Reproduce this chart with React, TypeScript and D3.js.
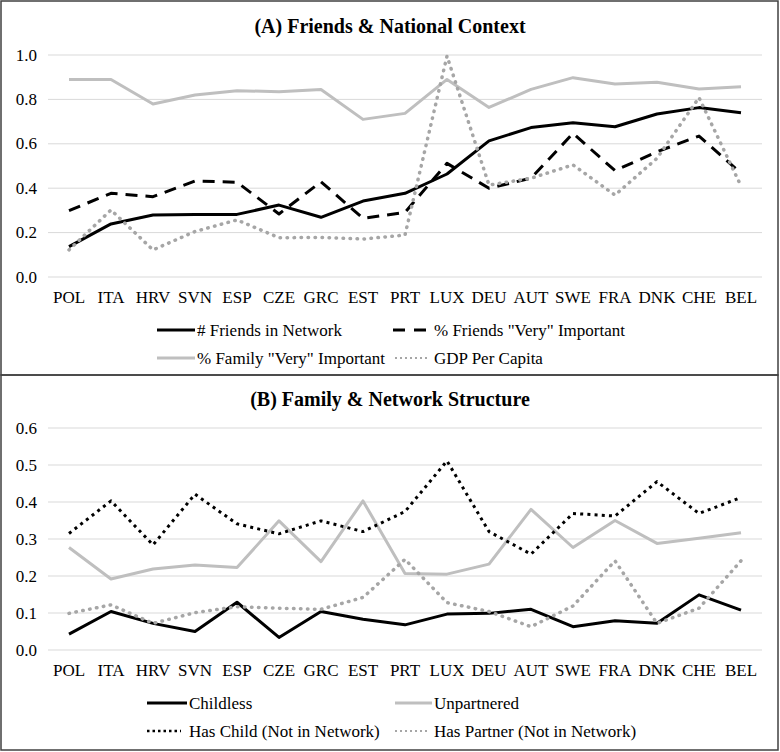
import React from "react";
import * as d3 from "d3";

const countries = ["POL","ITA","HRV","SVN","ESP","CZE","GRC","EST","PRT","LUX","DEU","AUT","SWE","FRA","DNK","CHE","BEL"];

const friendsNetwork = [0.137,0.239,0.279,0.282,0.282,0.324,0.269,0.342,0.377,0.464,0.613,0.673,0.695,0.677,0.734,0.763,0.740];
const friendsImportant = [0.299,0.377,0.362,0.432,0.427,0.284,0.429,0.264,0.291,0.512,0.400,0.445,0.647,0.479,0.564,0.635,0.467];
const familyImportant = [0.890,0.890,0.779,0.820,0.839,0.835,0.845,0.710,0.737,0.890,0.764,0.845,0.898,0.869,0.877,0.847,0.857];
const gdpPerCapita = [0.122,0.302,0.122,0.205,0.257,0.177,0.178,0.171,0.189,0.995,0.414,0.445,0.505,0.369,0.535,0.808,0.410];

const childless = [0.043,0.104,0.072,0.050,0.129,0.034,0.104,0.083,0.068,0.097,0.099,0.110,0.063,0.079,0.072,0.149,0.108];
const unpartnered = [0.277,0.192,0.219,0.230,0.223,0.349,0.239,0.403,0.207,0.205,0.232,0.380,0.277,0.350,0.288,0.302,0.317];
const hasChild = [0.315,0.403,0.284,0.421,0.341,0.314,0.349,0.320,0.374,0.511,0.320,0.259,0.369,0.362,0.455,0.369,0.412];
const hasPartner = [0.099,0.122,0.072,0.101,0.117,0.113,0.110,0.142,0.245,0.128,0.104,0.063,0.119,0.241,0.072,0.113,0.241];

const ticksA = [0, 0.2, 0.4, 0.6, 0.8, 1.0];
const ticksB = [0, 0.1, 0.2, 0.3, 0.4, 0.5, 0.6];

const FONT = "'Liberation Serif', 'Times New Roman', serif";

type Style = { stroke: string; width: number; dash?: string; cap?: string; legWidth?: number; legDash?: string };
const S_BLACK: Style = { stroke: "#000", width: 3 };
const S_DASH: Style = { stroke: "#000", width: 3, dash: "12,8", legDash: "12,9" };
const S_GRAY: Style = { stroke: "#bfbfbf", width: 3 };
const S_GRAYDOT: Style = { stroke: "#a6a6a6", width: 3.5, dash: "0.5,6.5", cap: "round", legWidth: 2, legDash: "2,3" };
const S_BLACKDOT: Style = { stroke: "#000", width: 3, dash: "3,4.2", legWidth: 2.5, legDash: "2.5,3" };

interface PanelProps {
  top: number;
  title: string;
  y0: number;
  y1: number;
  max: number;
  ticks: number[];
  series: { name: string; values: number[]; style: Style }[];
  legendX: number[][]; // [sampleStart, sampleEnd, textStart] per series
}

const x = d3.scaleBand<string>().domain(countries).range([48, 762]).padding(0);

function Panel({ top, title, y0, y1, max, ticks, series, legendX }: PanelProps) {
  const y = d3.scaleLinear().domain([0, max]).range([y0, y1]);
  const line = d3
    .line<number>()
    .x((_, i) => (x(countries[i]) as number) + x.bandwidth() / 2)
    .y((v) => y(v));
  const xLabelY = y0 + 20;
  const legY = [y0 + 53, y0 + 53, y0 + 81, y0 + 81];
  return (
    <g>
      <text x={390} y={top + 26} textAnchor="middle" dominantBaseline="central" fontFamily={FONT} fontWeight="bold" fontSize={20}>
        {title}
      </text>
      {ticks.map((t) => (
        <g key={t}>
          <line x1={48} x2={762} y1={y(t)} y2={y(t)} stroke="#d9d9d9" strokeWidth={1} />
          <text x={37} y={y(t)} textAnchor="end" dominantBaseline="central" fontFamily={FONT} fontSize={17} fill="#000">
            {t.toFixed(1)}
          </text>
        </g>
      ))}
      {countries.map((c) => (
        <text key={c} x={(x(c) as number) + x.bandwidth() / 2} y={xLabelY} textAnchor="middle" dominantBaseline="central" fontFamily={FONT} fontSize={17}>
          {c}
        </text>
      ))}
      {series.map((s) => (
        <path
          key={s.name}
          d={line(s.values) || ""}
          fill="none"
          stroke={s.style.stroke}
          strokeWidth={s.style.width}
          strokeDasharray={s.style.dash}
          strokeLinecap={(s.style.cap as any) || "butt"}
          strokeLinejoin="round"
        />
      ))}
      {series.map((s, i) => {
        const [a, b, t] = legendX[i];
        const ly = legY[i];
        return (
          <g key={"leg" + s.name}>
            <line
              x1={a}
              x2={b}
              y1={ly}
              y2={ly}
              stroke={s.style.stroke}
              strokeWidth={s.style.legWidth ?? s.style.width}
              strokeDasharray={s.style.legDash ?? s.style.dash}
              strokeLinecap="butt"
            />
            <text x={t} y={ly} dominantBaseline="central" fontFamily={FONT} fontSize={17}>
              {s.name}
            </text>
          </g>
        );
      })}
    </g>
  );
}

export default function App() {
  return (
    <svg width={780} height={752} style={{ position: "absolute", left: 0, top: 0, background: "#fff" }}>
      <rect x={0} y={0} width={780} height={752} fill="#fff" />
      <Panel
        top={0}
        title="(A) Friends & National Context"
        y0={277}
        y1={55}
        max={1.0}
        ticks={ticksA}
        legendX={[
          [157, 195, 197],
          [393, 430, 434],
          [157, 195, 197],
          [395, 428, 434],
        ]}
        series={[
          { name: "# Friends in Network", values: friendsNetwork, style: S_BLACK },
          { name: '% Friends "Very" Important', values: friendsImportant, style: S_DASH },
          { name: '% Family "Very" Important', values: familyImportant, style: S_GRAY },
          { name: "GDP Per Capita", values: gdpPerCapita, style: S_GRAYDOT },
        ]}
      />
      <Panel
        top={373}
        title="(B) Family & Network Structure"
        y0={650}
        y1={428}
        max={0.6}
        ticks={ticksB}
        legendX={[
          [147, 187, 189],
          [395, 432, 434],
          [147, 181, 189],
          [395, 427, 434],
        ]}
        series={[
          { name: "Childless", values: childless, style: S_BLACK },
          { name: "Unpartnered", values: unpartnered, style: S_GRAY },
          { name: "Has Child (Not in Network)", values: hasChild, style: S_BLACKDOT },
          { name: "Has Partner (Not in Network)", values: hasPartner, style: S_GRAYDOT },
        ]}
      />
      <rect x={1} y={1} width={777} height={374} fill="none" stroke="#404040" strokeWidth={1.5} />
      <rect x={1} y={375} width={777} height={375} fill="none" stroke="#404040" strokeWidth={1.5} />
    </svg>
  );
}
